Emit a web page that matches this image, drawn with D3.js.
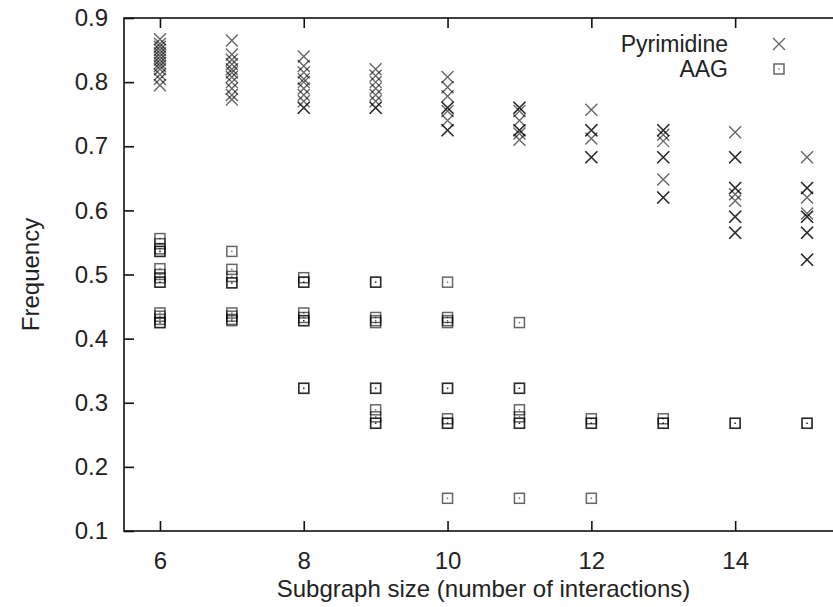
<!DOCTYPE html>
<html>
<head>
<meta charset="utf-8">
<script src="https://d3js.org/d3.v7.min.js"></script>
<style>
  body { margin: 0; background: #fff; }
  text { font-family: "Liberation Sans", Arial, Helvetica, sans-serif; fill: #222; }
</style>
</head>
<body>
<svg width="833" height="607"></svg>
<script>
// subgraph sizes on the x axis
var sizes = [6, 7, 8, 9, 10, 11, 12, 13, 14, 15];

// Pyrimidine frequencies, one list per subgraph size (repeats = overlapping marks)
var pyrimidine = [
  [0.867, 0.860, 0.855, 0.850, 0.845, 0.840, 0.835, 0.830, 0.825, 0.820, 0.812, 0.805, 0.795],
  [0.865, 0.843, 0.835, 0.828, 0.820, 0.815, 0.808, 0.800, 0.790, 0.780, 0.773],
  [0.840, 0.825, 0.815, 0.805, 0.800, 0.790, 0.780, 0.770, 0.760, 0.760],
  [0.820, 0.810, 0.800, 0.790, 0.780, 0.770, 0.760, 0.760],
  [0.808, 0.792, 0.778, 0.760, 0.760, 0.755, 0.740, 0.725, 0.725],
  [0.760, 0.760, 0.755, 0.740, 0.725, 0.725, 0.720, 0.710],
  [0.757, 0.725, 0.725, 0.712, 0.683, 0.683],
  [0.725, 0.725, 0.718, 0.708, 0.683, 0.683, 0.648, 0.620, 0.620],
  [0.722, 0.683, 0.683, 0.635, 0.635, 0.625, 0.615, 0.590, 0.590, 0.565, 0.565],
  [0.683, 0.635, 0.635, 0.620, 0.595, 0.590, 0.590, 0.565, 0.565, 0.523, 0.523]
];

// AAG frequencies, one list per subgraph size
var aag = [
  [0.556, 0.548, 0.540, 0.536, 0.536, 0.509, 0.500, 0.495, 0.488, 0.488, 0.440, 0.435, 0.430, 0.425, 0.425],
  [0.536, 0.508, 0.497, 0.487, 0.487, 0.440, 0.435, 0.430, 0.428],
  [0.495, 0.488, 0.488, 0.440, 0.433, 0.428, 0.428, 0.3225, 0.3225],
  [0.488, 0.488, 0.433, 0.428, 0.425, 0.3225, 0.3225, 0.289, 0.278, 0.268, 0.268],
  [0.488, 0.433, 0.428, 0.425, 0.3225, 0.3225, 0.275, 0.268, 0.268, 0.151],
  [0.425, 0.3225, 0.3225, 0.289, 0.278, 0.268, 0.268, 0.151],
  [0.275, 0.268, 0.268, 0.151],
  [0.275, 0.268, 0.268],
  [0.268, 0.268],
  [0.268, 0.268]
];

var yTicks = [0.1, 0.2, 0.3, 0.4, 0.5, 0.6, 0.7, 0.8, 0.9];
var xTicks = [6, 8, 10, 12, 14];
var seriesNames = ["Pyrimidine", "AAG"];

var svg = d3.select("svg"),
    margin = {top: 18, right: -10, bottom: 76, left: 124},
    width = +svg.attr("width") - margin.left - margin.right,
    height = +svg.attr("height") - margin.top - margin.bottom;

var x = d3.scaleLinear().domain([5.5, 15.5]).range([0, width]);
var y = d3.scaleLinear().domain([0.1, 0.9]).range([height, 0]);

var fontSize = "24px";

var g = svg.append("g").attr("transform", "translate(" + margin.left + "," + margin.top + ")");

// frame + inward ticks on all four sides (gnuplot style)
g.append("rect")
    .attr("width", width).attr("height", height)
    .attr("fill", "none").attr("stroke", "#111").attr("stroke-width", 1.6);

function styleAxis(sel) {
  sel.select(".domain").remove();
  sel.selectAll(".tick line").attr("stroke", "#111").attr("stroke-width", 1.6);
  sel.selectAll(".tick text").attr("font-size", fontSize).attr("fill", "#222");
}

g.append("g")
    .attr("transform", "translate(0," + height + ")")
    .call(d3.axisBottom(x).tickValues(xTicks).tickSize(-10).tickPadding(21))
    .call(styleAxis);
g.append("g")
    .call(d3.axisTop(x).tickValues(xTicks).tickSize(-10).tickFormat(""))
    .call(styleAxis);
g.append("g")
    .call(d3.axisLeft(y).tickValues(yTicks).tickSize(-10).tickPadding(16).tickFormat(d3.format(".1f")))
    .call(styleAxis);
g.append("g")
    .attr("transform", "translate(" + width + ",0)")
    .call(d3.axisRight(y).tickValues(yTicks).tickSize(-10).tickFormat(""))
    .call(styleAxis);

// axis titles
svg.append("text")
    .attr("x", margin.left + x(10.5))
    .attr("y", 597)
    .attr("text-anchor", "middle")
    .attr("font-size", fontSize)
    .text("Subgraph size (number of interactions)");

svg.append("text")
    .attr("transform", "translate(39," + (margin.top + y(0.5)) + ") rotate(-90)")
    .attr("text-anchor", "middle")
    .attr("font-size", fontSize)
    .text("Frequency");

// marks
var cross = "M-6,-6L6,6M-6,6L6,-6";
var markColor = "#000", markOpacity = 0.6;

var pyrPts = [], aagPts = [];
sizes.forEach(function(s, i) {
  pyrimidine[i].forEach(function(v) { pyrPts.push([s, v]); });
  aag[i].forEach(function(v) { aagPts.push([s, v]); });
});

g.append("g").selectAll("path")
  .data(pyrPts)
  .enter().append("path")
    .attr("d", cross)
    .attr("transform", function(d) { return "translate(" + x(d[0]) + "," + y(d[1]) + ")"; })
    .attr("fill", "none")
    .attr("stroke", markColor)
    .attr("stroke-opacity", markOpacity)
    .attr("stroke-width", 1.4);

function drawSquare(sel) {
  sel.append("rect")
      .attr("x", -5).attr("y", -5).attr("width", 10).attr("height", 10)
      .attr("fill", "none")
      .attr("stroke", markColor)
      .attr("stroke-opacity", markOpacity)
      .attr("stroke-width", 1.5);
  sel.append("rect")
      .attr("x", -0.7).attr("y", -0.7).attr("width", 1.4).attr("height", 1.4)
      .attr("fill", markColor)
      .attr("fill-opacity", markOpacity);
}

g.append("g").selectAll("g")
  .data(aagPts)
  .enter().append("g")
    .attr("transform", function(d) { return "translate(" + x(d[0]) + "," + y(d[1]) + ")"; })
    .call(drawSquare);

// legend
var legend = svg.append("g").attr("transform", "translate(728,0)");
seriesNames.forEach(function(name, i) {
  var ly = 44 + i * 25;
  legend.append("text")
      .attr("x", 0).attr("y", ly)
      .attr("dy", "0.35em")
      .attr("text-anchor", "end")
      .attr("font-size", "23px")
      .text(name);
  var sym = legend.append("g").attr("transform", "translate(51," + ly + ")");
  if (i === 0) {
    sym.append("path").attr("d", cross).attr("fill", "none")
       .attr("stroke", markColor).attr("stroke-opacity", markOpacity).attr("stroke-width", 1.4);
  } else {
    sym.call(drawSquare);
  }
});
</script>
</body>
</html>
